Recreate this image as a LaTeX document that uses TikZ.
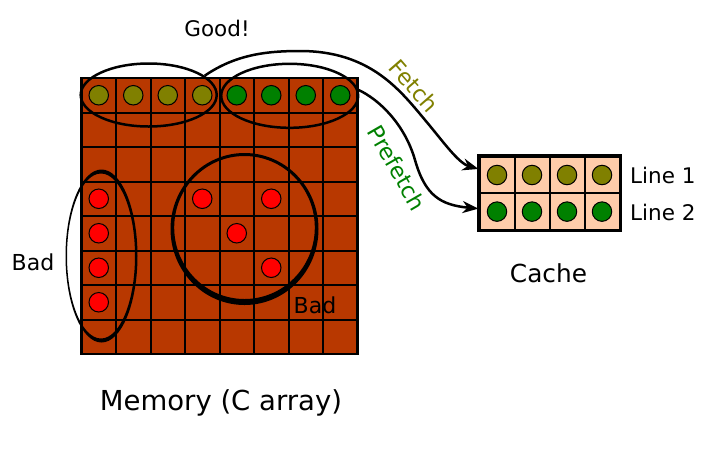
\documentclass[tikz,border=0pt]{standalone}
\usepackage{fontspec}
\setmainfont{DejaVu Sans}
\usetikzlibrary{shapes.geometric,arrows.meta}
\definecolor{brick}{RGB}{184,56,0}
\definecolor{peach}{RGB}{255,204,170}
\definecolor{olivec}{RGB}{128,128,0}
\definecolor{greenc}{RGB}{0,128,0}
\definecolor{redc}{RGB}{255,0,0}
\begin{document}
\begin{tikzpicture}[x=1pt,y=-1pt,
  dot/.style={circle,draw=black,line width=1pt,minimum size=19.5pt,inner sep=0pt},
  lbl/.style={font=\fontsize{21.5}{25}\selectfont,inner sep=0pt},
  cell/.style={rectangle,draw=black,fill=peach,line width=2pt,minimum width=35pt,minimum height=36.6pt,inner sep=0pt},
  grp/.style={ellipse,draw=black,line width=2.5pt,inner sep=0pt},
  conn/.style={line width=2.5pt,-{Stealth[length=16pt,width=12pt,inset=5pt]}}]
\useasboundingbox (0,0) rectangle (719,456);
% memory grid
\fill[brick] (81.5,78) rectangle (357.5,354);
\foreach \i in {1,...,7}{
  \draw[line width=2pt] ({81.5+34.5*\i},78) -- ({81.5+34.5*\i},354);
  \draw[line width=2pt] (81.5,{78+34.5*\i}) -- (357.5,{78+34.5*\i});
}
\draw[line width=2.5pt] (81.5,78) rectangle (357.5,354);
% top row dots
\foreach \i in {0,...,3}{\node[dot,fill=olivec] (m\i) at ({98.75+34.5*\i},95.25) {};}
\foreach \i in {4,...,7}{\node[dot,fill=greenc] (m\i) at ({98.75+34.5*\i},95.25) {};}
% red dots
\foreach \c/\r [count=\k] in {0/3,0/4,0/5,0/6,3/3,5/3,4/4,5/5}{
  \node[dot,fill=redc] (r\k) at ({98.75+34.5*\c},{95.25+34.5*\r}) {};
}
% bad groups (calligraphic strokes)
\fill[black,even odd rule] (101.5,256) ellipse [x radius=36,y radius=86.5]
  (101,256) ellipse [x radius=34,y radius=82.5];
\fill[black,even odd rule] (244.5,229) ellipse [x radius=74,y radius=76]
  (244.5,227.5) ellipse [x radius=70.3,y radius=71.5];
% good groups
\node[grp,minimum width=136pt,minimum height=63pt] (g1) at (148.7,95) {};
\node[grp,minimum width=137pt,minimum height=64pt] (g2) at (289.7,95.8) {};
% cache
\foreach \j in {0,...,3}{
  \node[cell] (a\j) at ({497+35*\j},175) {};
  \node[cell] (b\j) at ({497+35*\j},211.6) {};
}
\draw[line width=2.5pt] (a0.north west) rectangle (b3.south east);
\foreach \j in {0,...,3}{
  \node[dot,fill=olivec] (da\j) at (a\j) {};
  \node[dot,fill=greenc] (db\j) at (b\j) {};
}
% connectors
\draw[conn] (g1.19.5) .. controls (235,55) and (265,51) .. (300,51)
  .. controls (370,51) and (400,90) .. (425,120)
  .. controls (442,140) and (458,163) .. ([yshift=6pt]a0.west);
\draw[conn] (g2.5) .. controls (380,100) and (405,125) .. (415,160)
  .. controls (425,195) and (440,205) .. ([yshift=3pt]b0.west);
% labels
\node[lbl,font=\fontsize{22.5}{26}\selectfont,text=olivec,rotate=-49] (fetch) at (414,86) {Fetch};
\node[lbl,font=\fontsize{22.5}{26}\selectfont,text=greenc,rotate=-60] (prefetch) at (397,168) {Prefetch};
\node[lbl] (good) at (217,28) {Good!};
\node[lbl,font=\fontsize{22}{26}\selectfont] (bad1) at (33,262) {Bad};
\node[lbl,font=\fontsize{22}{26}\selectfont] (bad2) at (315,305) {Bad};
\node[lbl,anchor=west] (line1) at (630,175) {Line 1};
\node[lbl,anchor=west] (line2) at (630,212) {Line 2};
\node[lbl,font=\fontsize{24.8}{29}\selectfont] (cache) at (548.5,273) {Cache};
\node[inner sep=0pt,font=\fontsize{27.5}{32}\selectfont] (mem) at (221,403) {Memory (C array)};
\end{tikzpicture}
\end{document}
